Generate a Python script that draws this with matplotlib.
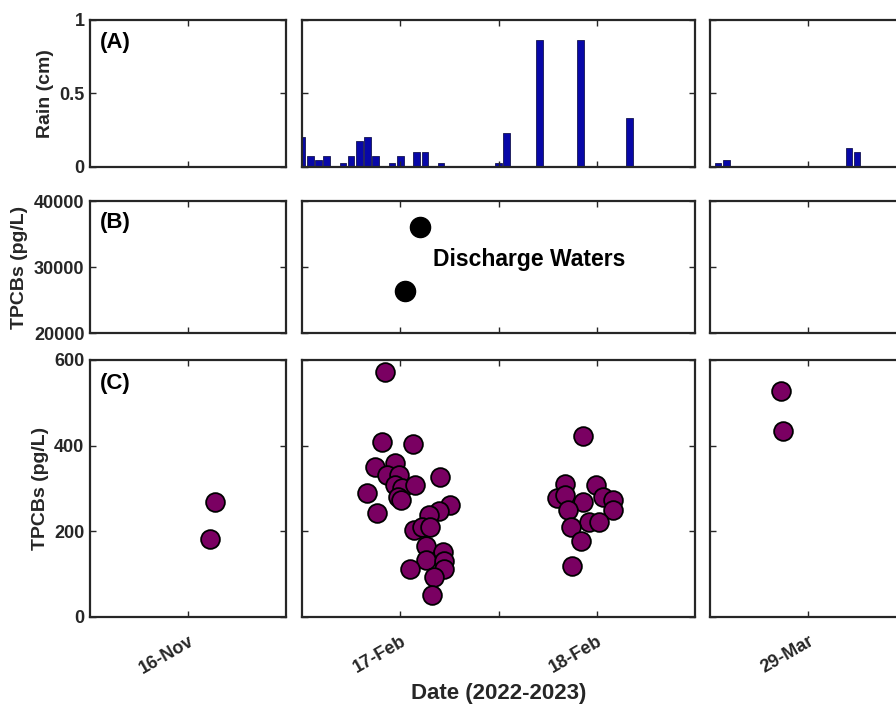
import numpy as np
import pandas as pd
import matplotlib
matplotlib.use('Agg')
import matplotlib.pyplot as plt

plt.rcParams['font.family'] = ['Liberation Sans', 'DejaVu Sans']
plt.rcParams['font.weight'] = 'bold'
plt.rcParams['axes.labelweight'] = 'bold'

# one column per sampling trip
days = ['2022-11-16', '2023-02-17', '2023-03-29']
span_days = [1, 2, 1]   # days shown in each column
tick_hr = [[0], [0, 12, 24], [0]]
tick_labels = [['16-Nov'], ['17-Feb', '', '18-Feb'], ['29-Mar']]

# hourly rain (cm), hours after midnight of the sampling day
rain_feb_hr = [-12, -11, -10, -9, -7, -6, -5, -4, -3, -1, 0, 2, 3, 5, 12, 13, 17, 22, 28]
rain_feb_cm = [0.2032, 0.0762, 0.0508, 0.0762, 0.0254, 0.0762, 0.1778, 0.2032, 0.0762,
               0.0254, 0.0762, 0.1016, 0.1016, 0.0254, 0.0254, 0.2286, 0.8636, 0.8636, 0.3302]
rain_mar_hr = [-11, -10, 5, 6]
rain_mar_cm = [0.0254, 0.0508, 0.1270, 0.1016]

# discharge waters (pg/L)
dis_hr = [0.61, 2.36]
dis_pcb = [26400, 36100]

# river samples, TPCBs (pg/L)
nov_hr = [3.35, 2.69]
nov_pcb = [269, 181]
feb_hr = [-1.84, -2.24, 1.51, -3.06, -0.70, -1.63, -0.21, 4.90, -0.70, 0.21, 1.84, -4.08,
          -0.30, 0.05, -2.85, 6.04, 4.69, 3.47, 1.63, 2.65, 3.67, 3.18, 5.22, 3.18, 5.39,
          1.22, 5.30, 4.08, 3.88,
          20.08, 23.88, 19.18, 20.08, 22.37, 24.82, 26.04, 20.49, 26.04, 23.06, 24.29,
          20.82, 22.04, 20.94, 22.33]
feb_pcb = [573, 409, 404, 351, 359, 331, 331, 327, 308, 300, 308, 289,
           280, 273, 242, 261, 248, 238, 204, 210, 210, 165, 152, 134, 131,
           111, 111, 94, 51,
           310, 308, 277, 285, 269, 281, 273, 249, 249, 222, 222,
           210, 178, 119, 423]
mar_hr = [-3.35, -3.06]
mar_pcb = [528, 434]


def to_time(day, hours):
    return (pd.Timestamp(day) + pd.to_timedelta(np.array(hours, dtype=float), unit='h')).values


fig = plt.figure(figsize=(8.96, 7.09), dpi=100)

col_left = [0.1004, 0.3371, 0.7924]
col_width = [0.2188, 0.4386, 0.2188]
row_bottom = [0.7645, 0.5303, 0.1298]
row_height = [0.2073, 0.1862, 0.3625]

axes = []
for r in range(3):
    row = []
    for c in range(3):
        ax = fig.add_axes([col_left[c], row_bottom[r], col_width[c], row_height[r]])
        start = pd.Timestamp(days[c]) - pd.Timedelta(hours=12)
        ax.set_xlim(start, start + pd.Timedelta(days=span_days[c]))
        ax.set_xticks(to_time(days[c], tick_hr[c]))
        ax.tick_params(direction='in', top=True, right=True, length=4, width=1,
                       colors='#262626', labelsize=13, pad=4)
        for s in ax.spines.values():
            s.set_linewidth(1.6)
            s.set_color('#262626')
        if r == 2:
            ax.set_xticklabels(tick_labels[c], rotation=30, ha='right', va='top',
                               rotation_mode='anchor')
            ax.tick_params(axis='x', pad=11)
        else:
            ax.tick_params(labelbottom=False)
        if c > 0:
            ax.tick_params(labelleft=False)
        row.append(ax)
    axes.append(row)

# (A) rain
bar_w = 0.8 / 24
axes[0][1].bar(to_time(days[1], rain_feb_hr), rain_feb_cm, width=bar_w,
               color='#0808a8', edgecolor='#141450', linewidth=0.6)
axes[0][2].bar(to_time(days[2], rain_mar_hr), rain_mar_cm, width=bar_w,
               color='#0808a8', edgecolor='#141450', linewidth=0.6)
for ax in axes[0]:
    ax.set_ylim(0, 1)
    ax.set_yticks([0, 0.5, 1])
axes[0][0].set_yticklabels(['0', '0.5', '1'])
axes[0][0].set_ylabel('Rain (cm)', fontsize=14, color='#262626')

# (B) discharge waters
axes[1][1].plot(to_time(days[1], dis_hr), dis_pcb, 'o', color='black', markersize=14.5)
axes[1][1].text(to_time(days[1], [4.0])[0], 31100, 'Discharge Waters',
                fontsize=16.5, ha='left', va='center', fontweight='bold')
for ax in axes[1]:
    ax.set_ylim(20000, 40000)
    ax.set_yticks([20000, 30000, 40000])
axes[1][0].set_ylabel('TPCBs (pg/L)', fontsize=14, color='#262626')

# (C) river samples
mk = dict(marker='o', linestyle='none', markersize=13.5, markerfacecolor='#7a0062',
          markeredgecolor='black', markeredgewidth=1.3)
axes[2][0].plot(to_time(days[0], nov_hr), nov_pcb, **mk)
axes[2][1].plot(to_time(days[1], feb_hr), feb_pcb, **mk)
axes[2][2].plot(to_time(days[2], mar_hr), mar_pcb, **mk)
for ax in axes[2]:
    ax.set_ylim(0, 600)
    ax.set_yticks([0, 200, 400, 600])
axes[2][0].set_ylabel('TPCBs (pg/L)', fontsize=14, color='#262626')
axes[2][1].set_xlabel('Date (2022-2023)', fontsize=16, color='#262626', labelpad=5)

for ax, lab, y in zip([axes[0][0], axes[1][0], axes[2][0]], ['(A)', '(B)', '(C)'],
                      [0.92, 0.92, 0.95]):
    ax.text(0.05, y, lab, transform=ax.transAxes, fontsize=16, va='top', ha='left',
            fontweight='bold')

fig.savefig('out.png', dpi=100)
